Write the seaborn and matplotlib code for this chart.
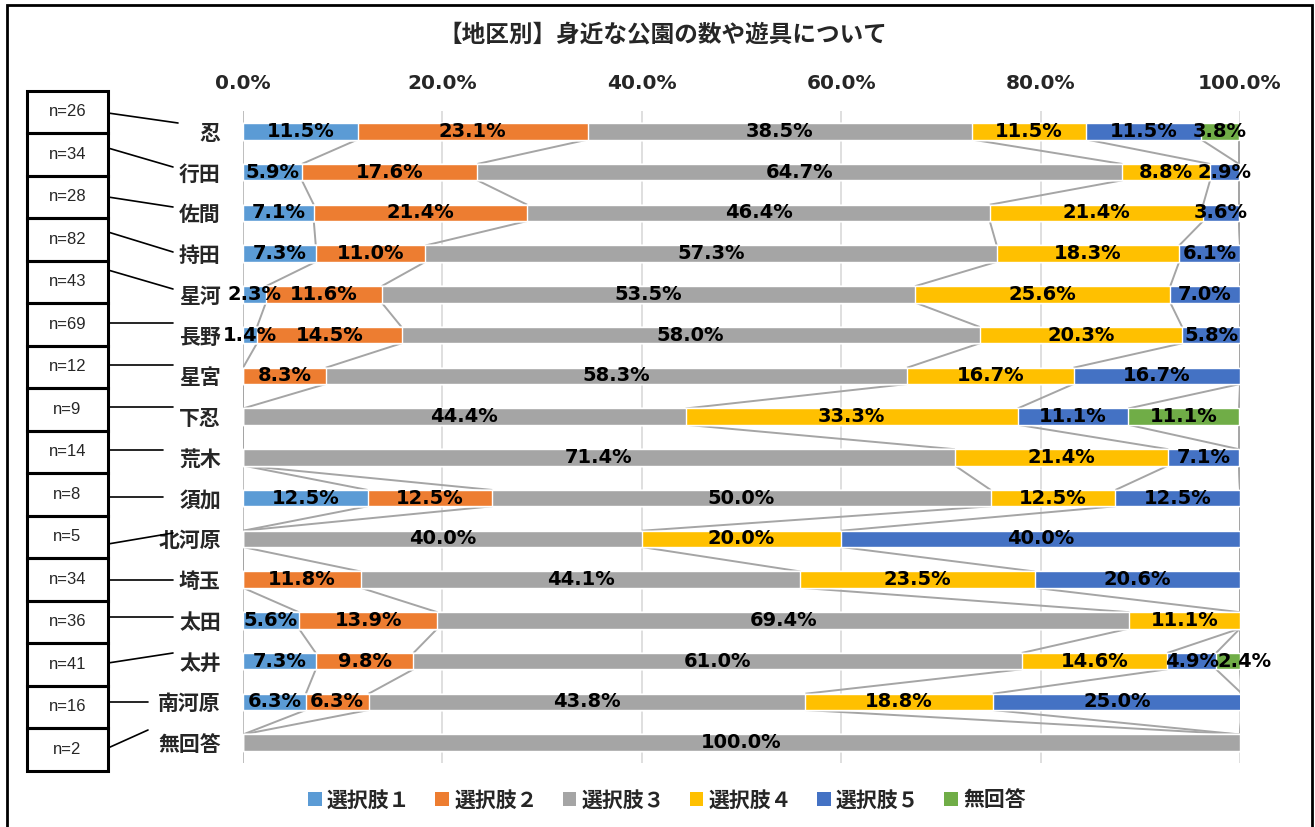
import numpy as np
import pandas as pd
import matplotlib
matplotlib.use("Agg")
import matplotlib.pyplot as plt
from matplotlib.patches import Rectangle, Patch
from matplotlib.lines import Line2D
import seaborn as sns

# ---- data -------------------------------------------------------------
regions = ["忍", "行田", "佐間", "持田", "星河", "長野", "星宮", "下忍",
           "荒木", "須加", "北河原", "埼玉", "太田", "太井", "南河原", "無回答"]
n_counts = [26, 34, 28, 82, 43, 69, 12, 9, 14, 8, 5, 34, 36, 41, 16, 2]
series_names = ["選択肢１", "選択肢２", "選択肢３", "選択肢４", "選択肢５", "無回答"]

choice1 = [11.5, 5.9, 7.1, 7.3, 2.3, 1.4, 0.0, 0.0, 0.0, 12.5, 0.0, 0.0, 5.6, 7.3, 6.3, 0.0]
choice2 = [23.1, 17.6, 21.4, 11.0, 11.6, 14.5, 8.3, 0.0, 0.0, 12.5, 0.0, 11.8, 13.9, 9.8, 6.3, 0.0]
choice3 = [38.5, 64.7, 46.4, 57.3, 53.5, 58.0, 58.3, 44.4, 71.4, 50.0, 40.0, 44.1, 69.4, 61.0, 43.8, 100.0]
choice4 = [11.5, 8.8, 21.4, 18.3, 25.6, 20.3, 16.7, 33.3, 21.4, 12.5, 20.0, 23.5, 11.1, 14.6, 18.8, 0.0]
choice5 = [11.5, 2.9, 3.6, 6.1, 7.0, 5.8, 16.7, 11.1, 7.1, 12.5, 40.0, 20.6, 0.0, 4.9, 25.0, 0.0]
no_answer = [3.8, 0.0, 0.0, 0.0, 0.0, 0.0, 0.0, 11.1, 0.0, 0.0, 0.0, 0.0, 0.0, 2.4, 0.0, 0.0]

x_ticks = [0, 20, 40, 60, 80, 100]
x_tick_labels = ["0.0%", "20.0%", "40.0%", "60.0%", "80.0%", "100.0%"]
title = "【地区別】身近な公園の数や遊具について"

# ---- styling ------------------------------------------------------------
colors = ["#5B9BD5", "#ED7D31", "#A5A5A5", "#FFC000", "#4472C4", "#70AD47"]
W, H = 1315, 827
BAR_H = 0.4
CJK = ["Noto Sans CJK JP", "DejaVu Sans"]
LATIN = ["DejaVu Sans", "Noto Sans CJK JP"]

sns.set_theme(style="white")
plt.rcParams["font.family"] = LATIN

def fx(px):
    return px / W

def fy(py):
    return 1 - py / H

values = np.array([choice1, choice2, choice3, choice4, choice5, no_answer])
cum = np.cumsum(values, axis=0)          # shape (6, n_regions)
left = np.vstack([np.zeros(len(regions)), cum[:-1]])

fig = plt.figure(figsize=(W / 100, H / 100), dpi=100)
ax = fig.add_axes([fx(243), fy(763), fx(1240) - fx(243), fy(111) - fy(763)])

# stacked bars: draw cumulative totals from the back layer to the front
for k in range(5, -1, -1):
    df = pd.DataFrame({"region": regions, "total": cum[k]})
    sns.barplot(data=df, x="total", y="region", orient="h", color=colors[k],
                width=BAR_H, saturation=1, ax=ax, zorder=3)

# series lines joining segment boundaries of neighbouring bars
for i in range(len(regions) - 1):
    for k in range(6):
        ax.plot([cum[k, i], cum[k, i + 1]], [i + BAR_H / 2, i + 1 - BAR_H / 2],
                color="#A5A5A5", lw=1.4, zorder=2, solid_capstyle="butt")

# value labels centred on each non-empty segment; a very thin final
# segment gets its label started at the segment edge so it clears its neighbour
for k in range(6):
    for i in range(len(regions)):
        v = values[k, i]
        if v <= 0:
            continue
        if k == 5 and v < 3:
            xpos, ha = left[k, i] + 0.15, "left"
        else:
            xpos, ha = left[k, i] + v / 2, "center"
        ax.text(xpos, i, f"{v:.1f}%", ha=ha, va="center",
                fontsize=14, fontweight="bold", color="black", zorder=5,
                family=LATIN, clip_on=False)

ax.set_xlim(0, 100)
ax.set_ylim(len(regions) - 0.5, -0.5)
ax.set_xlabel("")
ax.set_ylabel("")
ax.xaxis.tick_top()
ax.set_xticks(x_ticks)
ax.set_xticklabels(x_tick_labels, fontsize=14.5, fontweight="bold")
ax.tick_params(axis="x", length=0, pad=13)
ax.tick_params(axis="y", length=0, pad=16)
for lab in ax.get_yticklabels():
    lab.set_fontsize(15)
    lab.set_fontweight("bold")
    lab.set_family(CJK)
ax.grid(axis="x", color="#D9D9D9", lw=1.2, zorder=0)
ax.grid(axis="y", visible=False)
for s in ax.spines.values():
    s.set_visible(False)
ax.axvline(0, color="#BFBFBF", lw=1.4, zorder=1)
ax.set_axisbelow(True)

# title
fig.text(fx(663), fy(35), title, ha="center", va="center", fontsize=17,
         fontweight="bold", family=CJK)

# sample size boxes with leader lines to the region labels
box_top, box_h = 90.7, 42.5
leader_ends = [(178, 123), (173, 167), (173, 207), (173, 252), (173, 289),
               (173, 323), (173, 365), (173, 407), (163, 450), (163, 497),
               (173, 533), (173, 580), (173, 617), (173, 653), (148, 702),
               (148, 730)]
leader_starts = [113, 148, 197, 232, 270, 323, 365, 407, 450, 497, 544, 580,
                 617, 663, 702, 748]
for i, n in enumerate(n_counts):
    y0 = box_top + i * box_h
    fig.patches.append(Rectangle((fx(27), fy(y0 + box_h)), fx(108) - fx(27),
                                 fy(y0) - fy(y0 + box_h), transform=fig.transFigure,
                                 fill=False, ec="black", lw=2.2))
    fig.text(fx(67.5), fy(y0 + box_h / 2), f"n={n}", ha="center", va="center",
             fontsize=12, family=["Liberation Sans Narrow", "Liberation Sans"])
    ex, ey = leader_ends[i]
    fig.add_artist(Line2D([fx(108), fx(ex)], [fy(leader_starts[i]), fy(ey)],
                          transform=fig.transFigure, color="black", lw=1.2))

# legend
handles = [Patch(facecolor=c, edgecolor="none") for c in colors]
leg = fig.legend(handles, series_names, loc="center", bbox_to_anchor=(fx(667), fy(800)),
                 ncol=6, frameon=False, handlelength=0.65, handleheight=0.65,
                 handletextpad=0.25, columnspacing=1.2,
                 prop={"size": 15, "weight": "bold", "family": CJK})

# outer frame
fig.patches.append(Rectangle((fx(7), fy(830)), fx(1312) - fx(7), fy(5) - fy(830),
                             transform=fig.transFigure, fill=False, ec="black", lw=2))

fig.savefig("out.png", dpi=100)
